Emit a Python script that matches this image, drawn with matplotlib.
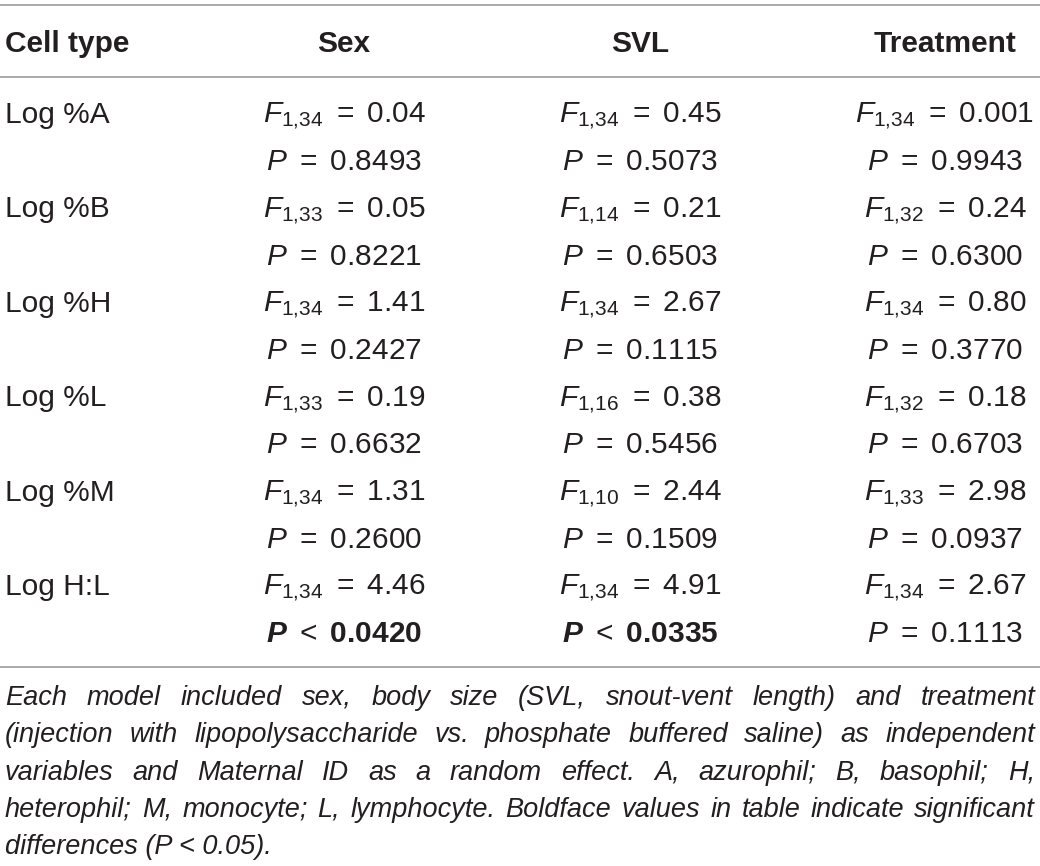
import matplotlib
matplotlib.use("Agg")
import matplotlib.pyplot as plt

plt.rcParams['font.family'] = ['Liberation Sans', 'DejaVu Sans']
plt.rcParams['mathtext.fontset'] = 'custom'
plt.rcParams['mathtext.rm'] = 'Liberation Sans'
plt.rcParams['mathtext.it'] = 'Liberation Sans:italic'
plt.rcParams['mathtext.bf'] = 'Liberation Sans:bold'
plt.rcParams['mathtext.bfit'] = 'Liberation Sans:bold:italic'
plt.rcParams['mathtext.sf'] = 'Liberation Sans'

# ---- data ----
headers = ["Cell type", "Sex", "SVL", "Treatment"]
cell_types = ["Log %A", "Log %B", "Log %H", "Log %L", "Log %M", "Log H:L"]
sex_df = ["1,34", "1,33", "1,34", "1,33", "1,34", "1,34"]
sex_F = ["0.04", "0.05", "1.41", "0.19", "1.31", "4.46"]
sex_P = ["0.8493", "0.8221", "0.2427", "0.6632", "0.2600", "0.0420"]
svl_df = ["1,34", "1,14", "1,34", "1,16", "1,10", "1,34"]
svl_F = ["0.45", "0.21", "2.67", "0.38", "2.44", "4.91"]
svl_P = ["0.5073", "0.6503", "0.1115", "0.5456", "0.1509", "0.0335"]
trt_df = ["1,34", "1,32", "1,34", "1,32", "1,33", "1,34"]
trt_F = ["0.001", "0.24", "0.80", "0.18", "2.98", "2.67"]
trt_P = ["0.9943", "0.6300", "0.3770", "0.6703", "0.0937", "0.1113"]
sex_sig = [False, False, False, False, False, True]
svl_sig = [False, False, False, False, False, True]
trt_sig = [False, False, False, False, False, False]
caption_lines = [
    "Each model included sex, body size (SVL, snout-vent length) and treatment",
    "(injection with lipopolysaccharide vs. phosphate buffered saline) as independent",
    "variables and Maternal ID as a random effect. A, azurophil; B, basophil; H,",
    "heterophil; M, monocyte; L, lymphocyte. Boldface values in table indicate significant",
    "differences (P < 0.05).",
]

W, H = 1040, 866
fig = plt.figure(figsize=(W / 100, H / 100), dpi=100)
ax = fig.add_axes([0, 0, 1, 1])
ax.set_xlim(0, W)
ax.set_ylim(H, 0)
ax.axis('off')

txt = '#231f20'
line_c = '#a3a3a3'
fs = 21.5
cap_fs = 19.5

for y in (5, 77, 667):
    ax.plot([0, W], [y, y], color=line_c, lw=1.3, solid_capstyle='butt')

col_x = [5, 344, 640, 945]
ax.text(col_x[0], 52, headers[0], fontsize=fs, fontweight='bold', color=txt, va='baseline', ha='left')
for i in range(1, 4):
    ax.text(col_x[i], 52, headers[i], fontsize=fs, fontweight='bold', color=txt, va='baseline', ha='center')

base0 = 123
pitch = 47.2
cols = [(sex_df, sex_F, sex_P, sex_sig), (svl_df, svl_F, svl_P, svl_sig), (trt_df, trt_F, trt_P, trt_sig)]
for r, ct in enumerate(cell_types):
    yF = base0 + 2 * r * pitch
    yP = yF + pitch
    ax.text(col_x[0], yF, ct, fontsize=fs, color=txt, va='baseline', ha='left')
    for c, (dfs, Fs, Ps, sig) in enumerate(cols):
        x = col_x[c + 1]
        d = dfs[r].replace(",", "{,}")
        ax.text(x, yF, r"$F_{%s}\ \mathrm{=}\ \mathrm{%s}$" % (d, Fs[r]), fontsize=fs, color=txt,
                va='baseline', ha='center')
        if sig[r]:
            s = r"$\mathbfit{P}\ \mathrm{<}\ \mathbf{%s}$" % Ps[r]
        else:
            s = r"$P\ \mathrm{=}\ \mathrm{%s}$" % Ps[r]
        ax.text(x, yP, s, fontsize=fs, color=txt, va='baseline', ha='center')

# caption, justified
fig.canvas.draw()
renderer = fig.canvas.get_renderer()
left, right = 5, 1035
cap_base = 705
cap_pitch = 37.3
for i, line in enumerate(caption_lines):
    y = cap_base + i * cap_pitch
    words = line.split(" ")
    if i == len(caption_lines) - 1:
        ax.text(left, y, line, fontsize=cap_fs, style='italic', color=txt, va='baseline', ha='left')
        continue
    tobjs = [ax.text(0, y, w, fontsize=cap_fs, style='italic', color=txt, va='baseline', ha='left')
             for w in words]
    widths = [t.get_window_extent(renderer).width for t in tobjs]
    gap = (right - left - sum(widths)) / (len(words) - 1)
    x = left
    for t, wd in zip(tobjs, widths):
        t.set_x(x)
        x += wd + gap

fig.savefig("out.png", dpi=100)
